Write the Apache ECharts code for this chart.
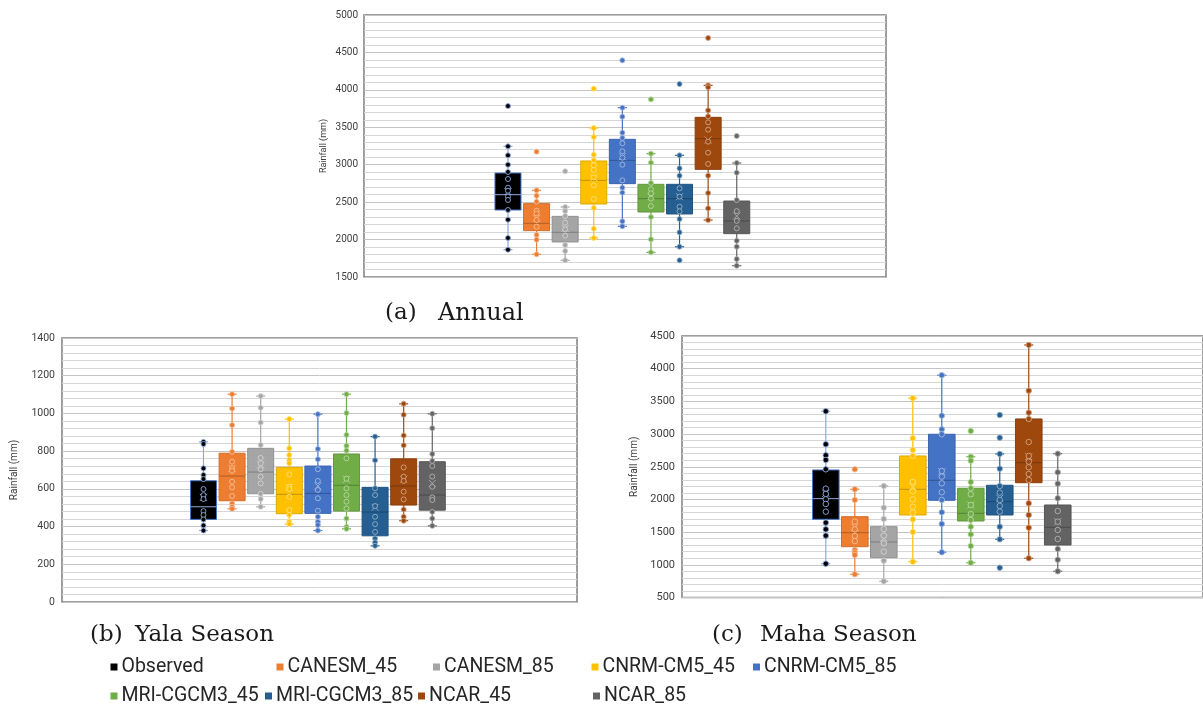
<!DOCTYPE html>
<html>
<head>
<meta charset="utf-8">
<script src="https://cdn.jsdelivr.net/npm/echarts@6/dist/echarts.min.js"></script>
<style>
html,body{margin:0;padding:0;background:#fff;}
#chart{width:1203px;height:704px;}
</style>
</head>
<body>
<div id="chart"></div>
<script>
var models = ['Observed', 'CANESM_45', 'CANESM_85', 'CNRM-CM5_45', 'CNRM-CM5_85',
              'MRI-CGCM3_45', 'MRI-CGCM3_85', 'NCAR_45', 'NCAR_85'];
var colors = ['#000000', '#ED7D31', '#A5A5A5', '#FFC000', '#4472C4',
              '#70AD47', '#255E91', '#9E480E', '#636363'];

// box stats: [min, q1, median, q3, max]
var annualStats = [
  [1865, 2395, 2600, 2889, 3245], [1803, 2119, 2217, 2480, 2658], [1723, 1968, 2097, 2310, 2435],
  [2021, 2475, 2791, 3050, 3490], [2177, 2747, 3058, 3339, 3762], [1829, 2368, 2546, 2738, 3148],
  [1905, 2342, 2546, 2738, 3125], [2261, 2938, 3348, 3633, 4060], [1651, 2079, 2248, 2515, 3023]
];
var annualMean = [2640, 2284, 2150, 2827, 3107, 2573, 2573, 3330, 2315];
var annualPoints = [
  [3784, 3245, 3125, 3000, 2903, 2809, 2693, 2653, 2573, 2529, 2395, 2266, 2021, 1865],
  [3174, 2658, 2587, 2506, 2386, 2350, 2261, 2172, 2061, 1999, 1803],
  [2912, 2435, 2382, 2315, 2226, 2137, 2052, 1928, 1847, 1723],
  [4016, 3490, 3370, 3134, 3058, 2992, 2929, 2831, 2724, 2542, 2422, 2146, 2021],
  [4394, 3762, 3642, 3428, 3357, 3286, 3179, 3094, 3000, 2791, 2693, 2627, 2244, 2177],
  [3873, 3148, 3027, 2756, 2671, 2618, 2546, 2448, 2301, 2003, 1829],
  [4078, 3125, 2952, 2854, 2684, 2573, 2439, 2377, 2275, 2097, 1905, 1723],
  [4693, 4060, 4034, 3726, 3646, 3566, 3468, 3308, 3161, 3010, 2854, 2622, 2417, 2261],
  [3384, 3023, 2894, 2528, 2380, 2250, 2150, 1985, 1905, 1740, 1651]
];

var yalaStats = [
  [379, 438, 505, 643, 849], [494, 537, 668, 789, 1102], [505, 574, 689, 815, 1092],
  [413, 468, 571, 714, 970], [379, 470, 576, 721, 996], [388, 482, 619, 785, 1102],
  [298, 351, 477, 608, 877], [431, 514, 615, 759, 1051], [404, 487, 567, 744, 998]
];
var yalaMean = [555, 709, 727, 608, 615, 651, 502, 651, 629];
var yalaPoints = [
  [849, 838, 709, 673, 652, 599, 567, 546, 482, 461, 438, 406, 379],
  [1102, 1026, 938, 797, 744, 709, 696, 638, 608, 562, 523, 505, 494],
  [1092, 1030, 952, 833, 764, 736, 704, 665, 629, 574, 546, 505],
  [970, 815, 780, 753, 736, 677, 611, 599, 558, 487, 462, 425, 413],
  [996, 812, 757, 704, 642, 594, 550, 484, 452, 425, 408, 379],
  [1102, 1002, 886, 828, 803, 762, 654, 603, 567, 532, 496, 443, 399, 388],
  [877, 752, 603, 567, 509, 452, 413, 372, 337, 316, 298],
  [1051, 993, 883, 831, 714, 665, 642, 585, 544, 491, 452, 431],
  [998, 922, 785, 748, 721, 665, 611, 555, 541, 478, 443, 404]
];

var mahaStats = [
  [1017, 1696, 2012, 2451, 3349], [855, 1277, 1491, 1736, 2155], [748, 1109, 1349, 1583, 2206],
  [1048, 1762, 2155, 2665, 3548], [1192, 1987, 2293, 2997, 3900], [1032, 1670, 1788, 2171, 2654],
  [1390, 1762, 1966, 2217, 2696], [1100, 2256, 2562, 3231, 4363], [901, 1303, 1574, 1915, 2700]
];
var mahaMean = [2094, 1574, 1406, 2195, 2425, 1915, 2018, 2654, 1660];
var mahaPoints = [
  [3349, 2844, 2676, 2604, 2461, 2165, 2084, 2002, 1931, 1813, 1645, 1543, 1446, 1017],
  [2461, 2155, 1992, 1660, 1543, 1441, 1364, 1227, 1186, 1150, 855],
  [2206, 1874, 1701, 1548, 1446, 1329, 1201, 1063, 748],
  [3548, 2936, 2757, 2665, 2267, 2125, 2002, 1889, 1797, 1696, 1502, 1048],
  [3900, 3282, 3073, 2997, 2435, 2348, 2247, 2110, 1992, 1804, 1625, 1192],
  [3047, 2654, 2593, 2267, 2171, 2079, 1915, 1778, 1686, 1583, 1467, 1288, 1032],
  [3292, 2945, 2696, 2471, 2206, 2104, 1992, 1900, 1813, 1583, 1390, 956],
  [4363, 3664, 3327, 3231, 2879, 2665, 2578, 2492, 2390, 2298, 1941, 1762, 1568, 1100],
  [2700, 2415, 2241, 2018, 1823, 1660, 1533, 1395, 1242, 1078, 901]
];

// mix a hex colour toward white (t>0) or black (t<0)
function mix(hex, t) {
  var n = parseInt(hex.slice(1), 16);
  var c = [(n >> 16) & 255, (n >> 8) & 255, n & 255];
  var target = t > 0 ? 255 : 0;
  var a = Math.abs(t);
  c = c.map(function (v) { return Math.round(v + (target - v) * a); });
  return 'rgb(' + c.join(',') + ')';
}

function lineColors(i) {
  if (i === 0) {
    return { whisker: '#8FAADC', border: '#4472C4', median: '#8FAADC', mean: '#8FAADC', dot: '#8FAADC' };
  }
  return { whisker: colors[i], border: mix(colors[i], -0.12), median: mix(colors[i], -0.25),
           mean: mix(colors[i], 0.45), dot: mix(colors[i], 0.5) };
}

function boxRenderer(i, hw) {
  var lc = lineColors(i);
  return function (params, api) {
    var x = api.value(0);
    var pMin = api.coord([x, api.value(1)]);
    var pQ1 = api.coord([x, api.value(2)]);
    var pMed = api.coord([x, api.value(3)]);
    var pQ3 = api.coord([x, api.value(4)]);
    var pMax = api.coord([x, api.value(5)]);
    var pMean = api.coord([x, api.value(6)]);
    var cx = pMin[0];
    var cap = 4.5;
    var m = 3.5;
    var ws = { stroke: lc.whisker, lineWidth: 1.2 };
    return {
      type: 'group',
      children: [
        { type: 'line', shape: { x1: cx, y1: pMax[1], x2: cx, y2: pQ3[1] }, style: ws },
        { type: 'line', shape: { x1: cx, y1: pQ1[1], x2: cx, y2: pMin[1] }, style: ws },
        { type: 'line', shape: { x1: cx - cap, y1: pMax[1], x2: cx + cap, y2: pMax[1] }, style: ws },
        { type: 'line', shape: { x1: cx - cap, y1: pMin[1], x2: cx + cap, y2: pMin[1] }, style: ws },
        { type: 'rect', shape: { x: cx - hw, y: pQ3[1], width: hw * 2, height: pQ1[1] - pQ3[1] },
          style: { fill: colors[i], stroke: lc.border, lineWidth: 1 } },
        { type: 'line', shape: { x1: cx - hw, y1: pMed[1], x2: cx + hw, y2: pMed[1] },
          style: { stroke: lc.median, lineWidth: 1 } },
        { type: 'line', shape: { x1: cx - m, y1: pMean[1] - m, x2: cx + m, y2: pMean[1] + m },
          style: { stroke: lc.mean, lineWidth: 1 }, z2: 5 },
        { type: 'line', shape: { x1: cx - m, y1: pMean[1] + m, x2: cx + m, y2: pMean[1] - m },
          style: { stroke: lc.mean, lineWidth: 1 }, z2: 5 }
      ]
    };
  };
}

function buildSeries(g, stats, mean, points, hw, dot) {
  var list = [];
  for (var i = 0; i < models.length; i++) {
    list.push({
      type: 'custom', name: models[i], xAxisIndex: g, yAxisIndex: g,
      renderItem: boxRenderer(i, hw),
      itemStyle: { color: colors[i] },
      encode: { x: 0, y: [1, 2, 3, 4, 5, 6] },
      data: [[i + 1].concat(stats[i], [mean[i]])],
      silent: true, z: 2
    });
    list.push({
      type: 'scatter', name: models[i], xAxisIndex: g, yAxisIndex: g,
      symbol: 'circle', symbolSize: dot,
      itemStyle: { color: colors[i], borderColor: lineColors(i).dot, borderWidth: 0.9, opacity: 1 },
      data: points[i].map(function (v) { return [i + 1, v]; }),
      silent: true, z: 3
    });
  }
  return list;
}

function yAxisOf(g, min, max, interval, fs, gap, nameSize, margin) {
  return {
    gridIndex: g, type: 'value', min: min, max: max, interval: interval,
    name: 'Rainfall (mm)', nameLocation: 'middle', nameGap: gap,
    nameTextStyle: { fontSize: nameSize, color: '#404040', fontFamily: 'Roboto' },
    axisLine: { show: false }, axisTick: { show: false },
    axisLabel: { fontSize: fs, color: '#404040', fontFamily: 'Roboto', margin: margin,
                 formatter: function (v) { return String(v); } },
    splitLine: { show: true, lineStyle: { color: '#c4c4c4', width: 1 } },
    minorTick: { show: false, splitNumber: 5 },
    minorSplitLine: { show: true, lineStyle: { color: '#d6d6d6', width: 1 } }
  };
}

var legendPos = [
  [110.5, 657], [276.5, 657], [433, 657], [591.5, 657], [753, 657],
  [110.5, 686], [265, 686], [418, 686], [593, 686]
];
var legends = models.map(function (name, i) {
  return {
    data: [name], left: legendPos[i][0], top: legendPos[i][1], padding: 0,
    icon: 'rect', itemWidth: 7, itemHeight: 7, selectedMode: false,
    textStyle: { fontSize: 19.5, color: '#262626', fontFamily: 'Roboto', padding: [0, 0, 0, -1] }
  };
});

var frame = { show: true, borderColor: '#7f7f7f', borderWidth: 1.5, backgroundColor: '#ffffff' };
var capFont = '23px "DejaVu Serif"';

var option = {
  animation: false,
  backgroundColor: '#ffffff',
  grid: [
    Object.assign({ left: 364, top: 15, width: 522, height: 262 }, frame),
    Object.assign({ left: 62, top: 338, width: 515, height: 264 }, frame),
    Object.assign({ left: 682, top: 336, width: 523, height: 261.5 }, frame)
  ],
  xAxis: [
    { gridIndex: 0, type: 'value', min: -4.035, max: 14.22, show: false },
    { gridIndex: 1, type: 'value', min: -3.947, max: 14.06, show: false },
    { gridIndex: 2, type: 'value', min: -3.96, max: 14.01, show: false }
  ],
  yAxis: [
    yAxisOf(0, 1500, 5000, 500, 10, 36, 9, 6),
    yAxisOf(1, 0, 1400, 200, 10.5, 43, 10, 7),
    yAxisOf(2, 500, 4500, 500, 11, 43, 10, 7)
  ],
  legend: legends,
  graphic: [
    { type: 'text', left: 385, top: 302, style: { text: '(a)', font: capFont, fill: '#1a1a1a' } },
    { type: 'text', left: 438, top: 302, style: { text: 'Annual', font: '24px "DejaVu Serif"', fill: '#1a1a1a' } },
    { type: 'text', left: 90, top: 624, style: { text: '(b)', font: capFont, fill: '#1a1a1a' } },
    { type: 'text', left: 135, top: 624, style: { text: 'Yala Season', font: capFont, fill: '#1a1a1a' } },
    { type: 'text', left: 712, top: 624, style: { text: '(c)', font: capFont, fill: '#1a1a1a' } },
    { type: 'text', left: 760, top: 624, style: { text: 'Maha Season', font: capFont, fill: '#1a1a1a' } }
  ],
  series: [].concat(
    buildSeries(0, annualStats, annualMean, annualPoints, 13, 5),
    buildSeries(1, yalaStats, yalaMean, yalaPoints, 13, 5),
    buildSeries(2, mahaStats, mahaMean, mahaPoints, 13.3, 5.5)
  )
};

var myChart = echarts.init(document.getElementById('chart'));
myChart.setOption(option);
</script>
</body>
</html>
